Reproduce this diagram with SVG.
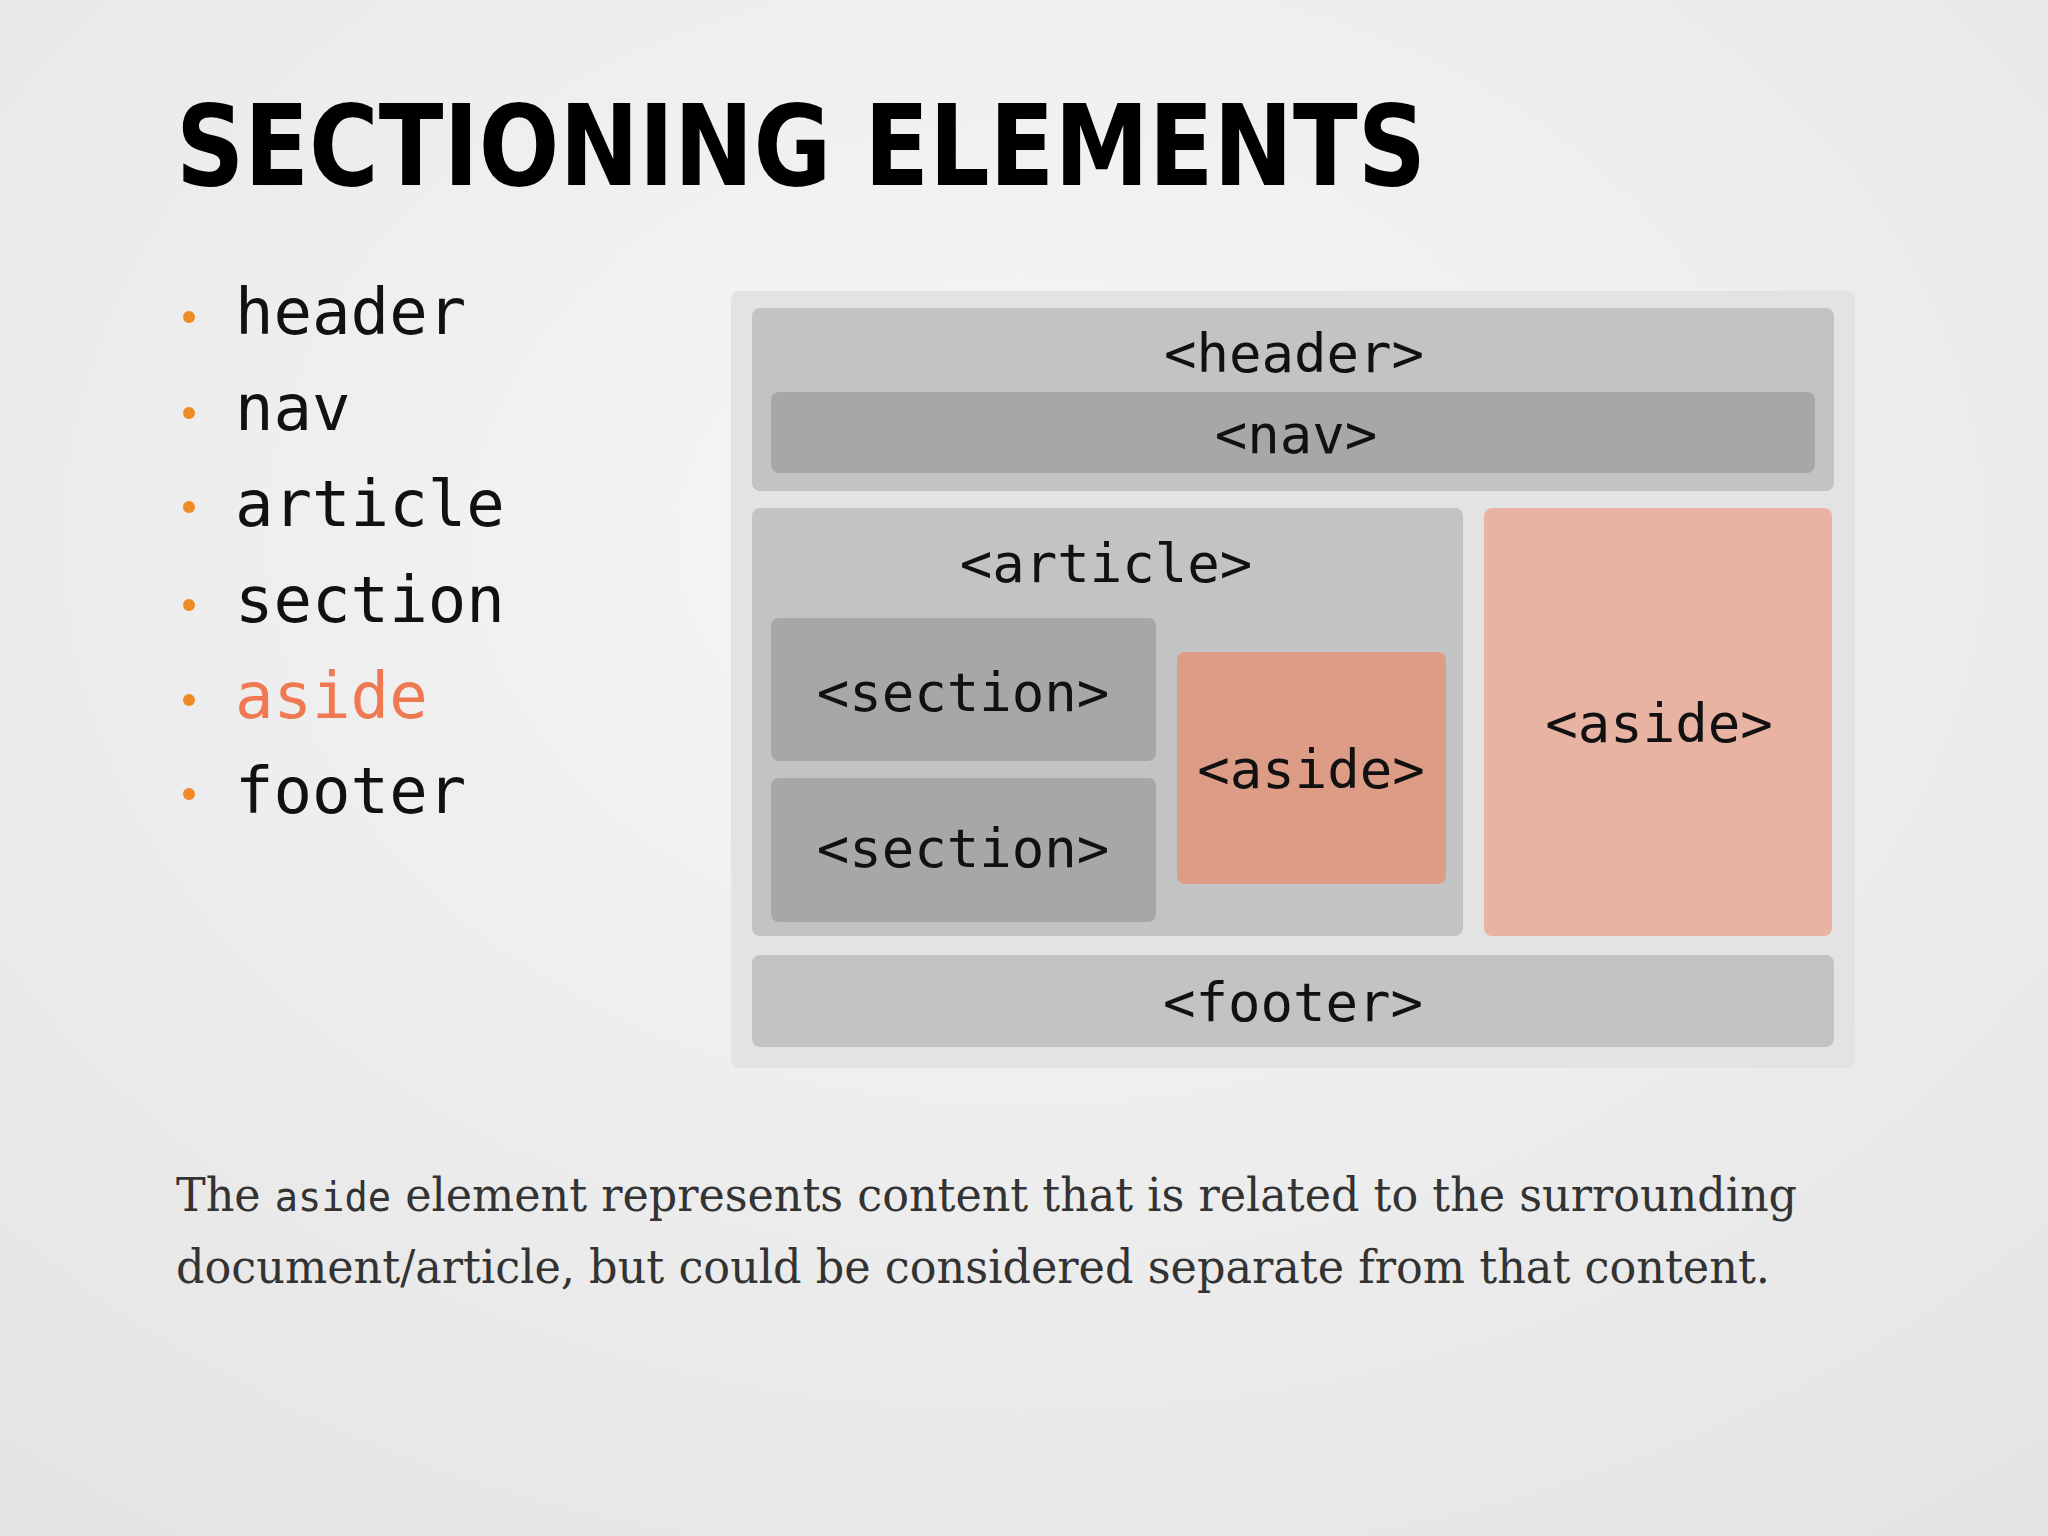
<svg xmlns="http://www.w3.org/2000/svg" width="2048" height="1536" viewBox="0 0 2048 1536">
<defs>
<radialGradient id="bg" cx="0.5" cy="0.35" r="0.8">
<stop offset="0" stop-color="#f7f7f7"/><stop offset="1" stop-color="#e4e4e4"/>
</radialGradient>
<style>
.m{font-family:"DejaVu Sans Mono","Liberation Mono",monospace;fill:#111}
.lbl{font-size:54px;text-anchor:middle}
.li{font-size:64px}
.dot{fill:#f08a24}
.g1{fill:#c4c3c4}.g2{fill:#a8a7a8}
</style>
</defs>
<rect width="2048" height="1536" fill="url(#bg)"/>
<text x="176" y="185" font-family="'DejaVu Sans','Liberation Sans',sans-serif" font-weight="bold" font-size="112" textLength="1250" lengthAdjust="spacingAndGlyphs" fill="#000">SECTIONING ELEMENTS</text>
<g id="list">
<circle class="dot" cx="189" cy="317" r="6"/><text class="m li" x="235" y="334">header</text>
<circle class="dot" cx="189" cy="413" r="6"/><text class="m li" x="235" y="430">nav</text>
<circle class="dot" cx="189" cy="507" r="6"/><text class="m li" x="235" y="526">article</text>
<circle class="dot" cx="189" cy="605" r="6"/><text class="m li" x="235" y="622">section</text>
<circle class="dot" cx="189" cy="700" r="6"/><text class="m li" x="235" y="718" style="fill:#ef7a52">aside</text>
<circle class="dot" cx="189" cy="794" r="6"/><text class="m li" x="235" y="813">footer</text>
</g>
<g id="outer"><rect x="731" y="291" width="1124" height="777" rx="8" fill="#e3e3e3"/></g>
<g id="header"><rect class="g1" x="752" y="308" width="1082" height="183" rx="8"/><text class="m lbl" x="1294" y="372">&lt;header&gt;</text></g>
<g id="nav"><rect class="g2" x="771" y="392" width="1044" height="81" rx="8"/><text class="m lbl" x="1296" y="453">&lt;nav&gt;</text></g>
<g id="article"><rect class="g1" x="752" y="508" width="711" height="428" rx="8"/><text class="m lbl" x="1106" y="582">&lt;article&gt;</text></g>
<g id="section1"><rect class="g2" x="771" y="618" width="385" height="143" rx="8"/><text class="m lbl" x="963" y="711">&lt;section&gt;</text></g>
<g id="section2"><rect class="g2" x="771" y="778" width="385" height="144" rx="8"/><text class="m lbl" x="963" y="867">&lt;section&gt;</text></g>
<g id="aside1"><rect x="1177" y="652" width="269" height="232" rx="8" fill="#dc9c86"/><text class="m lbl" x="1311" y="788">&lt;aside&gt;</text></g>
<g id="aside2"><rect x="1484" y="508" width="348" height="428" rx="8" fill="#e8b3a2"/><text class="m lbl" x="1659" y="742">&lt;aside&gt;</text></g>
<g id="footer"><rect class="g1" x="752" y="955" width="1082" height="92" rx="8"/><text class="m lbl" x="1293" y="1021">&lt;footer&gt;</text></g>
<g id="connectors"/>
<g font-family="'DejaVu Serif','Liberation Serif',serif" font-size="46" fill="#333">
<text x="176" y="1211" textLength="1621" lengthAdjust="spacingAndGlyphs">The <tspan font-family="'DejaVu Sans Mono',monospace" font-size="40">aside</tspan> element represents content that is related to the surrounding</text>
<text x="176" y="1283" textLength="1594" lengthAdjust="spacingAndGlyphs">document/article, but could be considered separate from that content.</text>
</g>
</svg>
